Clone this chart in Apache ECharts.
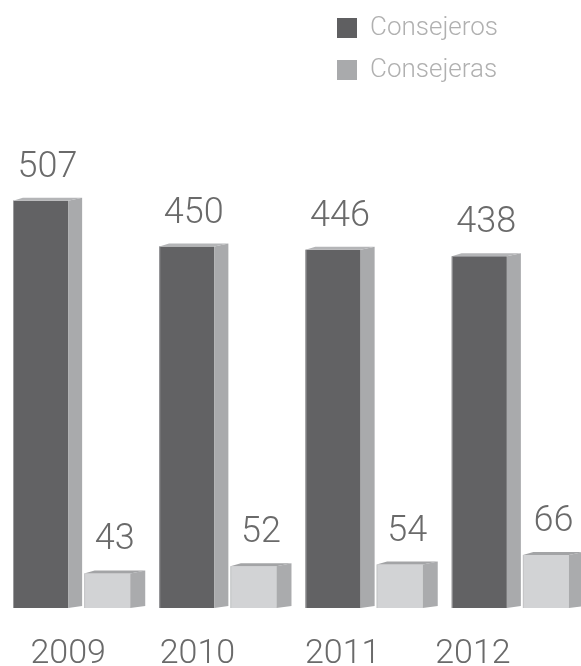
<!DOCTYPE html>
<html>
<head>
<meta charset="utf-8">
<style>
  html, body { margin: 0; padding: 0; background: #ffffff; }
  #chart { width: 581px; height: 666px; }
</style>
<script src="https://cdn.jsdelivr.net/npm/echarts@6/dist/echarts.min.js"></script>
</head>
<body>
<div id="chart"></div>
<script>
// Board members by year
const years = ['2009', '2010', '2011', '2012'];
const consejeros = [507, 450, 446, 438];
const consejeras = [43, 52, 54, 66];

const FONT = 'Roboto';
const BAND = 146;     // reference band width for the offsets below
const DEPTH_Y = 3;    // vertical lift of the back edge

// Pseudo-3D bar: front face, right side face, top face and a value label
function makeBar(offsets, colors) {
  return function (params, api) {
    const idx = api.value(0);
    const val = api.value(1);
    const base = api.coord([idx, 0]);
    const top = api.coord([idx, val]);
    const bw = api.size([1, 0])[0];
    const k = bw / BAND;
    const start = base[0] - bw / 2;
    const x0 = start + offsets[0] * k;
    const x1 = start + offsets[1] * k;
    const x2 = start + offsets[2] * k;
    const yT = top[1];
    const yB = base[1];
    const depth = x2 - x1;
    return {
      type: 'group',
      children: [
        {
          type: 'rect',
          shape: { x: x0, y: yT, width: x1 - x0, height: yB - yT },
          style: { fill: colors.front }
        },
        {
          type: 'rect',
          shape: { x: x0, y: yT, width: 1, height: yB - yT },
          style: { fill: colors.edge }
        },
        {
          type: 'polygon',
          shape: { points: [[x1, yT], [x2, yT - DEPTH_Y], [x2, yB - 2], [x1, yB]] },
          style: { fill: colors.side }
        },
        {
          type: 'polygon',
          shape: { points: [[x0, yT], [x0 + depth * 0.7, yT - DEPTH_Y], [x2, yT - DEPTH_Y], [x1, yT]] },
          style: { fill: colors.top }
        },
        {
          type: 'text',
          style: {
            text: String(val),
            x: (x0 + x2) / 2,
            y: yT - 33,
            align: 'center',
            verticalAlign: 'middle',
            fill: '#6a6a6a',
            font: '300 36px ' + FONT
          }
        }
      ]
    };
  };
}

const menData = years.map((y, i) => [i, consejeros[i]]);
const womenData = years.map((y, i) => [i, consejeras[i]]);

// Year labels sit left of each group's centre, by a varying amount
const yearShift = [22, 56, 58, 90];
const yearRich = {};
yearShift.forEach((pad, i) => {
  yearRich['y' + i] = {
    fontFamily: FONT,
    fontWeight: 300,
    fontSize: 34,
    color: '#6a6a6a',
    padding: [0, pad, 0, 0]
  };
});

const chart = echarts.init(document.getElementById('chart'), null, { renderer: 'canvas' });
chart.setOption({
  animation: false,
  backgroundColor: '#ffffff',
  legend: {
    orient: 'vertical',
    left: 332,
    top: 10,
    itemWidth: 20,
    itemHeight: 20,
    itemGap: 16,
    icon: 'rect',
    textStyle: {
      fontFamily: FONT,
      fontWeight: 300,
      fontSize: 26,
      lineHeight: 26,
      color: '#b0b0b0',
      padding: [0, 0, 0, 8]
    },
    data: ['Consejeros', 'Consejeras']
  },
  grid: { left: 6, width: 585, top: 126, bottom: 58, outerBoundsMode: 'none', containLabel: false },
  xAxis: {
    type: 'category',
    data: years,
    axisLine: { show: false },
    axisTick: { show: false },
    axisLabel: {
      interval: 0,
      hideOverlap: false,
      margin: 29,
      fontFamily: FONT,
      fontWeight: 300,
      fontSize: 34,
      color: '#6a6a6a',
      formatter: (v, i) => '{y' + i + '|' + v + '}',
      rich: yearRich
    }
  },
  yAxis: {
    type: 'value',
    min: 0,
    max: 600,
    show: false,
    splitLine: { show: false }
  },
  series: [
    {
      name: 'Consejeros',
      type: 'custom',
      itemStyle: { color: '#5f5f61' },
      encode: { x: 0, y: 1 },
      data: menData,
      renderItem: makeBar([7, 62, 76], {
        front: '#626264', side: '#a9aaac', top: '#b4b5b7', edge: '#9a9a9c'
      })
    },
    {
      name: 'Consejeras',
      type: 'custom',
      itemStyle: { color: '#a9aaac' },
      encode: { x: 0, y: 1 },
      data: womenData,
      renderItem: makeBar([78, 124, 139], {
        front: '#d2d3d5', side: '#aaabad', top: '#a3a4a6', edge: '#c4c5c7'
      })
    }
  ]
});
</script>
</body>
</html>
